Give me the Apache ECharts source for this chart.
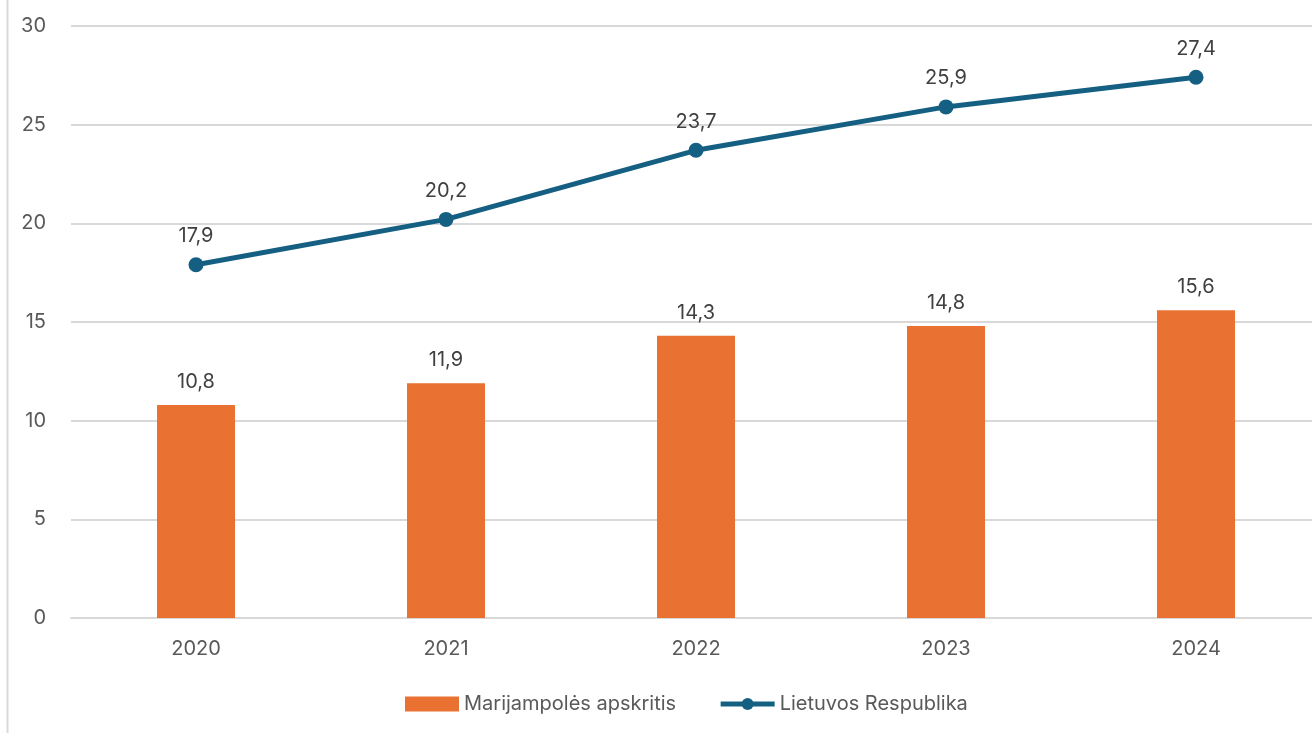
<!DOCTYPE html>
<html><head><meta charset="utf-8">
<script src="https://cdn.jsdelivr.net/npm/echarts@6/dist/echarts.min.js"></script>
<style>html,body{margin:0;padding:0;background:#fff}#c{width:1312px;height:733px}</style>
</head><body><div id="c"></div>
<script>
const years = ['2020','2021','2022','2023','2024'];
const marijampole = [10.8, 11.9, 14.3, 14.8, 15.6];
const lietuva = [17.9, 20.2, 23.7, 25.9, 27.4];
const yTicks = [0, 5, 10, 15, 20, 25, 30];

const font = 'Inter, "Noto Sans", sans-serif';
const fmt = p => String(p.value).replace('.', ',');
const chart = echarts.init(document.getElementById('c'));
chart.setOption({
  animation: false,
  textStyle: {fontFamily: font},
  graphic: [{type: 'line', shape: {x1: 7.5, y1: 0, x2: 7.5, y2: 733}, style: {stroke: '#d9d9d9', lineWidth: 2}}],
  grid: {left: 71, top: 26, width: 1250, height: 592, containLabel: false, outerBoundsMode: 'none'},
  legend: {
    bottom: 14, left: 400, itemGap: 42, itemWidth: 54, itemHeight: 15,
    textStyle: {fontSize: 20, color: '#595959', fontFamily: font},
    data: [
      {name: 'Marijampolės apskritis', icon: 'rect'},
      {name: 'Lietuvos Respublika', lineStyle: {width: 5}}
    ]
  },
  xAxis: {
    type: 'category', data: years,
    axisLine: {lineStyle: {color: '#d9d9d9', width: 2}},
    axisTick: {show: false},
    axisLabel: {fontSize: 20, color: '#595959', margin: 21}
  },
  yAxis: {
    type: 'value', min: yTicks[0], max: yTicks[yTicks.length-1], interval: 5,
    axisLine: {show: false}, axisTick: {show: false},
    splitLine: {lineStyle: {color: '#d9d9d9', width: 2}},
    axisLabel: {fontSize: 20, color: '#595959', margin: 25}
  },
  series: [
    {
      name: 'Marijampolės apskritis', type: 'bar', data: marijampole, barWidth: 78,
      itemStyle: {color: '#E97132'},
      label: {show: true, position: 'top', distance: 13, fontSize: 20, color: '#404040', formatter: fmt}
    },
    {
      name: 'Lietuvos Respublika', type: 'line', data: lietuva,
      lineStyle: {color: '#156082', width: 5}, itemStyle: {color: '#156082'},
      symbol: 'circle', symbolSize: 15,
      label: {show: true, position: 'top', distance: 11, fontSize: 20, color: '#404040', formatter: fmt}
    }
  ]
});
</script></body></html>
